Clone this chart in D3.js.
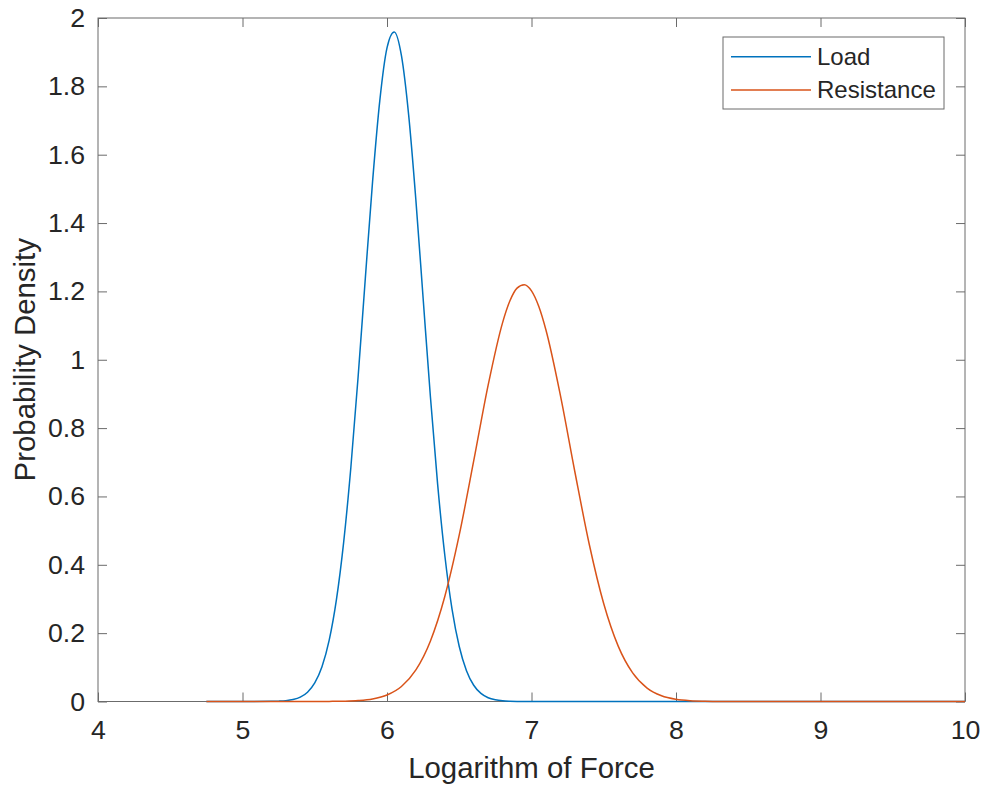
<!DOCTYPE html>
<html>
<head>
<meta charset="utf-8">
<script src="https://cdn.jsdelivr.net/npm/d3@7/dist/d3.min.js"></script>
<style>
  html, body { margin: 0; padding: 0; background: #fff; }
  svg { display: block; }
  text { font-family: "Liberation Sans", Arial, Helvetica, sans-serif; fill: #262626; }
</style>
</head>
<body>
<svg id="chart" width="985" height="788"></svg>
<script>
// Probability density of log load and log resistance
const loadX = [4.75, 5.2, 5.25, 5.3, 5.35, 5.4, 5.45, 5.5, 5.55, 5.6, 5.65, 5.7, 5.75, 5.8, 5.85,
  5.9, 5.95, 6.0, 6.05, 6.1, 6.15, 6.2, 6.25, 6.3, 6.35, 6.4, 6.45, 6.5, 6.55, 6.6, 6.65,
  6.7, 6.75, 6.8, 6.85, 6.9, 7.0, 10];
const loadY = [0, 0.0004, 0.001, 0.0024, 0.0058, 0.0129, 0.0273, 0.0543, 0.1017, 0.1794, 0.2979,
  0.4657, 0.6854, 0.9494, 1.2385, 1.5206, 1.7577, 1.9126, 1.9594, 1.8897, 1.7158, 1.4665,
  1.1801, 0.8940, 0.6374, 0.4280, 0.2705, 0.1610, 0.0902, 0.0476, 0.0236, 0.0110, 0.0049,
  0.0020, 0.0008, 0.0003, 0, 0];

const resistX = [4.75, 5.5, 5.6, 5.7, 5.8, 5.9, 6.0, 6.1, 6.2, 6.3, 6.4, 6.5, 6.6, 6.7, 6.8, 6.85,
  6.9, 6.95, 7.0, 7.05, 7.1, 7.2, 7.3, 7.4, 7.5, 7.6, 7.7, 7.8, 7.9, 8.0, 8.1, 8.2, 8.3, 10];
const resistY = [0, 0, 0.0003, 0.0009, 0.0027, 0.0075, 0.0191, 0.0440, 0.0924, 0.1765, 0.3073,
  0.4873, 0.7038, 0.9256, 1.1087, 1.1717, 1.2095, 1.2197, 1.2016, 1.1564, 1.0871, 0.8958,
  0.6723, 0.4595, 0.2860, 0.1621, 0.0837, 0.0393, 0.0168, 0.0066, 0.0023, 0.0008, 0.0002, 0];

const seriesNames = ["Load", "Resistance"];
const seriesColors = ["#0072BD", "#D95319"];

const xTicks = [4, 5, 6, 7, 8, 9, 10];
const yTicks = [0, 0.2, 0.4, 0.6, 0.8, 1, 1.2, 1.4, 1.6, 1.8, 2];

const xLabel = "Logarithm of Force";
const yLabel = "Probability Density";

const plot = { left: 98, right: 965, top: 18, bottom: 701.5 };
const svg = d3.select("#chart");

const x = d3.scaleLinear().domain([4, 10]).range([plot.left, plot.right]);
const y = d3.scaleLinear().domain([0, 2]).range([plot.bottom, plot.top]);

const axisColor = "#6b6b6b";
const tickLen = 9;
const tickFont = 26.7;
const titleFont = 29.4;
const legendFont = 24;

function styleAxis(g) {
  g.select(".domain").remove();
  g.selectAll(".tick line").attr("stroke", axisColor).attr("stroke-width", 1);
  g.selectAll(".tick text").attr("font-size", tickFont).attr("fill", "#262626");
}

// bottom axis with labels
svg.append("g")
  .attr("transform", `translate(0,${plot.bottom})`)
  .call(d3.axisBottom(x).tickValues(xTicks).tickFormat(d3.format("d"))
    .tickSizeInner(-tickLen).tickSizeOuter(0).tickPadding(18.5))
  .call(styleAxis);

// left axis with labels
svg.append("g")
  .attr("transform", `translate(${plot.left},0)`)
  .call(d3.axisLeft(y).tickValues(yTicks).tickFormat(d => d3.format("~g")(d))
    .tickSizeInner(-tickLen).tickSizeOuter(0).tickPadding(13))
  .call(styleAxis);

// top and right axes: ticks only
svg.append("g")
  .attr("transform", `translate(0,${plot.top})`)
  .call(d3.axisTop(x).tickValues(xTicks).tickFormat("").tickSizeInner(-tickLen).tickSizeOuter(0))
  .call(styleAxis);
svg.append("g")
  .attr("transform", `translate(${plot.right},0)`)
  .call(d3.axisRight(y).tickValues(yTicks).tickFormat("").tickSizeInner(-tickLen).tickSizeOuter(0))
  .call(styleAxis);

// frame
svg.append("rect")
  .attr("x", plot.left).attr("y", plot.top)
  .attr("width", plot.right - plot.left).attr("height", plot.bottom - plot.top)
  .attr("fill", "none").attr("stroke", axisColor).attr("stroke-width", 1);

// curves
const line = d3.line()
  .x(d => x(d[0])).y(d => y(d[1]))
  .curve(d3.curveMonotoneX);

const series = [
  d3.zip(loadX, loadY),
  d3.zip(resistX, resistY)
];

series.forEach((pts, i) => {
  svg.append("path")
    .datum(pts)
    .attr("d", line)
    .attr("fill", "none")
    .attr("stroke", seriesColors[i])
    .attr("stroke-width", 1.5)
    .attr("stroke-linejoin", "round");
});

// axis titles
svg.append("text")
  .attr("x", (plot.left + plot.right) / 2)
  .attr("y", 778)
  .attr("text-anchor", "middle")
  .attr("font-size", titleFont)
  .text(xLabel);

svg.append("text")
  .attr("transform", `translate(35,${(plot.top + plot.bottom) / 2}) rotate(-90)`)
  .attr("text-anchor", "middle")
  .attr("font-size", titleFont)
  .text(yLabel);

// legend
const legend = svg.append("g");
legend.append("rect")
  .attr("x", 723).attr("y", 37).attr("width", 221).attr("height", 72)
  .attr("fill", "#fff").attr("stroke", axisColor).attr("stroke-width", 1);

const legendRows = [56.7, 90];
seriesNames.forEach((name, i) => {
  legend.append("line")
    .attr("x1", 731).attr("x2", 811)
    .attr("y1", legendRows[i]).attr("y2", legendRows[i])
    .attr("stroke", seriesColors[i]).attr("stroke-width", 1.5);
  legend.append("text")
    .attr("x", 817).attr("y", legendRows[i])
    .attr("dy", "0.35em")
    .attr("font-size", legendFont)
    .text(name);
});
</script>
</body>
</html>
